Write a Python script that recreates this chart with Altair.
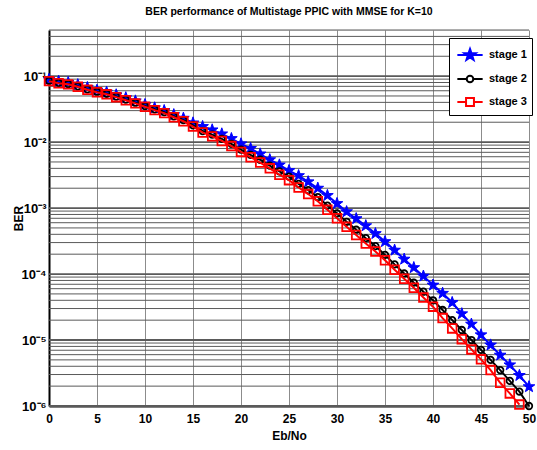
import math
import altair as alt
import pandas as pd

# ---------------- data ----------------
ebno = list(range(0, 51))
series_names = ["stage 1", "stage 2", "stage 3"]

stage1 = [0.089, 0.083, 0.080, 0.074, 0.067, 0.061, 0.057, 0.052, 0.047, 0.042,
          0.037, 0.033, 0.030, 0.026, 0.023, 0.0195, 0.0172, 0.0153, 0.0133, 0.0113,
          0.0094, 0.0080, 0.0066, 0.0054, 0.0045, 0.0037, 0.0031, 0.0025, 0.0020, 0.00155,
          0.00117, 8.8e-4, 6.9e-4, 5.4e-4, 4.1e-4, 3.1e-4, 2.3e-4, 1.68e-4, 1.25e-4, 9.3e-5,
          6.8e-5, 5.1e-5, 3.7e-5, 2.5e-5, 1.74e-5, 1.2e-5, 8.4e-6, 5.9e-6, 4.2e-6, 2.9e-6,
          1.96e-6]
stage2 = [0.085, 0.079, 0.076, 0.070, 0.063, 0.058, 0.054, 0.049, 0.044, 0.0395,
          0.0352, 0.0314, 0.0284, 0.0246, 0.0215, 0.0180, 0.0147, 0.0130, 0.0112, 0.0094,
          0.0077, 0.0064, 0.0054, 0.0044, 0.0036, 0.0030, 0.00233, 0.00187, 0.00147, 0.00109,
          8.3e-4, 6.2e-4, 4.7e-4, 3.5e-4, 2.65e-4, 1.95e-4, 1.4e-4, 1.02e-4, 7.4e-5, 5.4e-5,
          4.0e-5, 2.85e-5, 2.0e-5, 1.42e-5, 1.0e-5, 7.1e-6, 5.0e-6, 3.5e-6, 2.4e-6, 1.65e-6,
          1.0e-6]
stage3 = [0.084, 0.078, 0.075, 0.069, 0.062, 0.057, 0.053, 0.048, 0.043, 0.0386,
          0.0343, 0.0305, 0.0275, 0.0238, 0.0207, 0.0172, 0.0140, 0.0122, 0.0104, 0.0087,
          0.0071, 0.0059, 0.0049, 0.0040, 0.0032, 0.00265, 0.00205, 0.00163, 0.00127, 9.4e-4,
          7.0e-4, 5.2e-4, 3.9e-4, 2.9e-4, 2.2e-4, 1.62e-4, 1.16e-4, 8.5e-5, 6.2e-5, 4.4e-5,
          3.2e-5, 2.15e-5, 1.5e-5, 1.03e-5, 7.2e-6, 5.1e-6, 3.5e-6, 2.25e-6, 1.55e-6, 1.05e-6]

x_ticks = list(range(0, 51, 5))
y_decades = [-6, -5, -4, -3, -2, -1]
grid_mult = [1, 2, 3, 4, 5, 6, 7, 8, 9]

# ---------------- tables ----------------
frames = []
for name, vals in zip(series_names, [stage1, stage2, stage3]):
    frames.append(pd.DataFrame({"ebno": ebno[:len(vals)], "ber": vals, "series": name}))
df = pd.concat(frames, ignore_index=True)

Y_TOP = 0.5
grid_vals = [k * 10.0 ** e for e in y_decades for k in grid_mult if k * 10.0 ** e <= Y_TOP + 1e-12]
grid_df = pd.DataFrame({"ber": grid_vals, "major": [abs(math.log10(v) - round(math.log10(v))) < 1e-9 for v in grid_vals]})

# ---------------- styles ----------------
FONT = "Liberation Sans, Arial"
BLUE, BLACK, RED = "#0000ff", "#000000", "#ff0000"


def star_path(R=1.0, r=0.4, n=5, cx=0.0):
    pts = []
    for i in range(2 * n):
        ang = -math.pi / 2 + i * math.pi / n
        rad = R if i % 2 == 0 else r
        pts.append((cx + rad * math.cos(ang), rad * math.sin(ang)))
    return "M" + "L".join(f"{x:.3f},{y:.3f}" for x, y in pts) + "Z"


STAR = star_path(1.0, 0.4)
L = 1.15  # legend line half length in symbol units
leg_star = f"M{-L},0L{L},0" + star_path(0.55, 0.22)
leg_circle = f"M{-L},0L-0.3,0M0.3,0L{L},0M0.3,0A0.3,0.3 0 1,1 -0.3,0A0.3,0.3 0 1,1 0.3,0Z"
leg_square = f"M{-L},0L-0.36,0M0.36,0L{L},0M-0.36,-0.36L0.36,-0.36L0.36,0.36L-0.36,0.36Z"

xscale = alt.Scale(domain=[0, 50], nice=False, zero=False)
yscale = alt.Scale(type="log", domain=[1e-6, Y_TOP], nice=False)

x_axis = alt.Axis(values=x_ticks, title="Eb/No", grid=True, gridColor="#8c8c8c", gridWidth=1,
                  ticks=False, labelFont=FONT, labelFontSize=12, labelFontWeight="bold",
                  labelColor="black", labelPadding=7, titleFont=FONT, titleFontSize=12,
                  titleFontWeight="bold", titleColor="black", titlePadding=6,
                  domainColor="black", domainWidth=2, labelFlush=False)
y_axis = alt.Axis(values=[10.0 ** e for e in y_decades],
                  labelExpr="'10⁻' + ['⁰','¹','²','³','⁴','⁵','⁶'][-round(log(datum.value)/LN10)]",
                  title="BER", grid=False, ticks=False, labelFont=FONT, labelFontSize=13,
                  labelFontWeight="bold", labelColor="black", labelPadding=3,
                  titleFont=FONT, titleFontSize=12, titleFontWeight="bold", titleColor="black",
                  titlePadding=0, titleX=-24, domainColor="black", domainWidth=2, labelFlush=False)

X = alt.X("ebno:Q", scale=xscale, axis=x_axis)
Y = alt.Y("ber:Q", scale=yscale, axis=y_axis)

# horizontal log grid
hgrid = alt.Chart(grid_df).mark_rule(color="#5a5a5a").encode(
    y=alt.Y("ber:Q", scale=yscale, axis=y_axis),
    strokeWidth=alt.condition("datum.major", alt.value(1.8), alt.value(1)),
)

layers = [hgrid]
styles = [
    ("stage 1", BLUE, dict(shape=STAR, size=150, filled=True, fill=BLUE, stroke=BLUE, strokeWidth=1)),
    ("stage 2", BLACK, dict(shape="circle", size=42, filled=False, stroke=BLACK, strokeWidth=1.8)),
    ("stage 3", RED, dict(shape="square", size=75, filled=False, stroke=RED, strokeWidth=1.8)),
]
for name, col, pt in styles:
    sub = alt.Chart(df).transform_filter(alt.datum.series == name)
    layers.append(sub.mark_line(color=col, strokeWidth=2).encode(x=X, y=Y))
    layers.append(sub.mark_point(opacity=1, **pt).encode(x=X, y=Y))

# legend-only layer (points placed below the plotted range and clipped away)
legend_def = alt.Legend(title=None, orient="none", legendX=400, legendY=8, fillColor="white",
                        strokeColor="black", padding=5, rowPadding=3, symbolOffset=4, labelOffset=7,
                        symbolSize=484, symbolStrokeWidth=2, labelFont=FONT, labelFontSize=11,
                        labelFontWeight="bold", labelColor="black")
leg_df = pd.DataFrame({"series": series_names, "ebno": [25, 25, 25], "ber": [1e-9, 1e-9, 1e-9]})
leg_layer = alt.Chart(leg_df).mark_point(clip=True, size=484, strokeWidth=2, opacity=1).encode(
    x=X, y=Y,
    shape=alt.Shape("series:N", scale=alt.Scale(domain=series_names, range=[leg_star, leg_circle, leg_square]),
                    legend=legend_def),
    stroke=alt.Stroke("series:N", scale=alt.Scale(domain=series_names, range=[BLUE, BLACK, RED]),
                      legend=legend_def),
    fill=alt.Fill("series:N", scale=alt.Scale(domain=series_names, range=[BLUE, "transparent", "transparent"]),
                  legend=legend_def),
)
layers.append(leg_layer)

chart = alt.layer(*layers).properties(
    width=480, height=376,
    title=alt.Title("BER performance of Multistage PPIC with MMSE for K=10", font=FONT, fontSize=10.5,
                    fontWeight="bold", color="black", anchor="middle", offset=12),
    autosize=alt.AutoSizeParams(type="none"),
    padding={"left": 49, "top": 30, "right": 8, "bottom": 44},
).configure_view(stroke="black", strokeWidth=1.2).configure(background="white")

chart.save("out.html", embed_options={"renderer": "svg", "actions": False})
